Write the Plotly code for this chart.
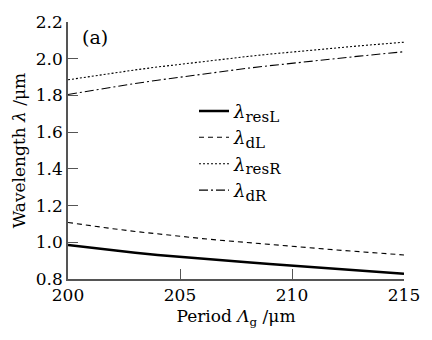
import plotly.graph_objects as go

period = [200, 201, 202, 203, 204, 205, 206, 207, 208, 209, 210, 211, 212, 213, 214, 215]
res_L = [0.985, 0.970, 0.956, 0.943, 0.931, 0.920, 0.910, 0.900, 0.891, 0.882, 0.873, 0.864, 0.855, 0.846, 0.837, 0.828]
d_L = [1.108, 1.090, 1.074, 1.059, 1.045, 1.032, 1.020, 1.009, 0.998, 0.988, 0.978, 0.968, 0.958, 0.949, 0.940, 0.931]
res_R = [1.885, 1.904, 1.922, 1.939, 1.955, 1.970, 1.985, 1.999, 2.012, 2.025, 2.037, 2.048, 2.059, 2.070, 2.080, 2.090]
d_R = [1.805, 1.826, 1.846, 1.865, 1.883, 1.900, 1.917, 1.933, 1.948, 1.962, 1.976, 1.989, 2.002, 2.014, 2.026, 2.038]

subs = ["resL", "dL", "resR", "dR"]
names = ["<i>λ</i><sub><span style='font-size:15px'>%s</span></sub>" % s for s in subs]
series = [res_L, d_L, res_R, d_R]
styles = [
    dict(color="black", width=2.5, dash="solid"),
    dict(color="black", width=1.1, dash="5px,4px"),
    dict(color="black", width=1.1, dash="2px,2px"),
    dict(color="black", width=1.1, dash="9px,3px,2px,3px"),
]

font = "DejaVu Serif, serif"
fig = go.Figure()
for n, s, st in zip(names, series, styles):
    fig.add_trace(go.Scatter(x=period, y=s, mode="lines", name=n, line=st))

fig.update_layout(
    width=432, height=340,
    margin=dict(l=68, r=14, t=14, b=61),
    paper_bgcolor="white", plot_bgcolor="white",
    font=dict(family=font, size=17, color="black"),
    showlegend=True,
    legend=dict(x=0.375, y=0.725, xanchor="left", yanchor="top",
                bgcolor="rgba(0,0,0,0)", font=dict(family=font, size=18), tracegroupgap=0),
    xaxis=dict(range=[200, 215], tickvals=[200, 205, 210, 215],
               ticks="inside", ticklen=10, tickcolor="#555", tickwidth=1.3,
               showline=True, linecolor="#555", linewidth=1.5,
               showgrid=False, zeroline=False, ticklabeloverflow="allow",
               tickfont=dict(family=font, size=17),
               title=dict(text="Period <i>Λ</i><sub>g</sub> /μm", standoff=6, font=dict(family=font, size=17))),
    yaxis=dict(range=[0.8, 2.2], tickvals=[0.8, 1.0, 1.2, 1.4, 1.6, 1.8, 2.0, 2.2],
               ticktext=["0.8", "1.0", "1.2", "1.4", "1.6", "1.8", "2.0", "2.2"],
               ticks="inside", ticklen=10, tickcolor="#555", tickwidth=1.3,
               showline=True, linecolor="#555", linewidth=1.5,
               showgrid=False, zeroline=False, ticklabeloverflow="allow",
               tickfont=dict(family=font, size=17),
               title=dict(text="Wavelength <i>λ</i> /μm", standoff=6, font=dict(family=font, size=17))),
)
fig.add_annotation(text="(a)", x=0.035, y=0.94, xref="paper", yref="paper",
                   xanchor="left", yanchor="middle", showarrow=False,
                   font=dict(family=font, size=19))
fig.write_html("out.html")
